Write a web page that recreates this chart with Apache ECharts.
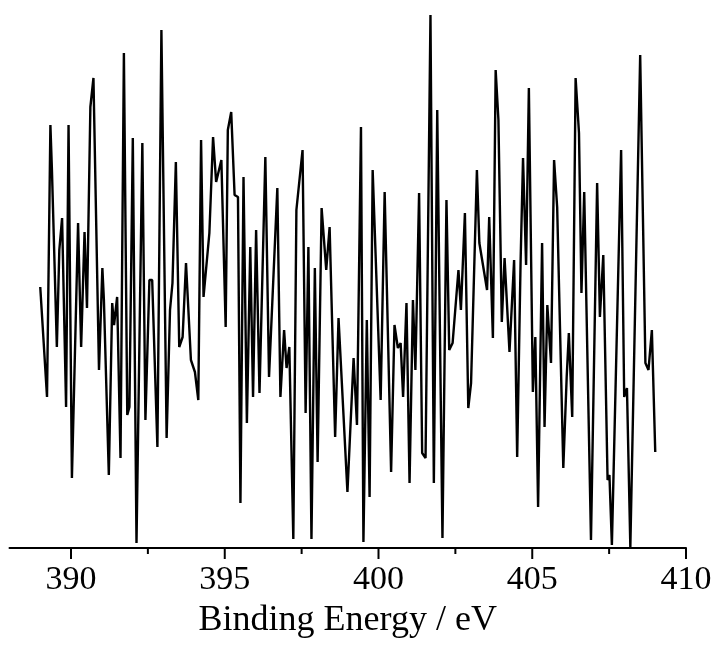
<!DOCTYPE html>
<html>
<head>
<meta charset="utf-8">
<script src="https://cdn.jsdelivr.net/npm/echarts@6/dist/echarts.min.js"></script>
<style>
  html, body { margin: 0; padding: 0; background: #fff; }
  #main { width: 717px; height: 662px; }
</style>
</head>
<body>
<div id="main"></div>
<script>
// binding energy (eV) of each vertex
const energy = [
  389.00, 389.22, 389.33, 389.38, 389.54, 389.62, 389.71, 389.84, 389.92, 390.03, 390.23, 390.33, 390.44, 390.52, 390.63, 390.73,
  390.91, 391.02, 391.07, 391.23, 391.34, 391.40, 391.50, 391.61, 391.72, 391.83, 391.90, 392.01, 392.13, 392.32, 392.42, 392.55, 392.64,
  392.81, 392.94, 393.11, 393.22, 393.30, 393.41, 393.52, 393.63, 393.74, 393.90, 394.03, 394.14, 394.23, 394.31, 394.50,
  394.62, 394.72, 394.89, 395.03, 395.10, 395.21, 395.32, 395.43, 395.51, 395.61, 395.72, 395.83, 395.92, 396.02, 396.13, 396.32,
  396.44, 396.71, 396.81, 396.93, 397.01, 397.10, 397.23, 397.33, 397.53, 397.63, 397.72, 397.82, 397.93, 398.02, 398.15,
  398.30, 398.41, 398.59, 398.70, 398.99, 399.19, 399.30, 399.43, 399.51, 399.62, 399.71, 399.81,
  400.07, 400.20, 400.41, 400.52, 400.63, 400.72, 400.80, 400.91, 401.01, 401.12, 401.20, 401.32, 401.42, 401.53, 401.69, 401.80, 401.91,
  402.08, 402.21, 402.30, 402.41, 402.60, 402.68, 402.81, 402.92, 403.01, 403.20, 403.28, 403.53, 403.60, 403.72,
  403.81, 403.90, 404.01, 404.10, 404.26, 404.41, 404.51, 404.62, 404.70, 404.80, 404.89, 405.02, 405.10, 405.19, 405.32, 405.40, 405.49,
  405.61, 405.71, 405.81, 406.01, 406.12, 406.19, 406.30, 406.41, 406.52, 406.60, 406.69, 406.91, 407.11, 407.20, 407.31, 407.45,
  407.51, 407.59, 407.89, 407.99, 408.08, 408.19, 408.51, 408.68, 408.78, 408.89, 409.00
];

// intensity (arb. units)
const intensity = [
  261, 151, 423, 378, 201, 298, 330, 141, 423, 70, 325, 201, 316, 240, 441, 470,
  178, 280, 248, 73, 245, 223, 251, 90, 495, 133, 141, 410, 5, 405, 128, 268, 268,
  101, 518, 110, 238, 265, 386, 201, 211, 285, 188, 176, 148, 408, 251, 315,
  411, 366, 388, 221, 418, 436, 353, 351, 45, 371, 125, 301, 151, 318, 155, 391,
  171, 360, 151, 218, 180, 201, 9, 338, 398, 135, 301, 9, 280, 86, 340,
  278, 321, 111, 230, 56, 190, 123, 421, 6, 228, 51, 378,
  148, 356, 76, 223, 200, 205, 151, 245, 65, 248, 178, 355, 95, 90, 533, 65, 438,
  10, 348, 198, 205, 278, 238, 335, 140, 165, 378, 305, 258, 331, 210,
  478, 428, 226, 290, 196, 288, 91, 285, 390, 283, 460, 156, 211, 41, 305, 121, 243,
  185, 388, 341, 80, 171, 215, 131, 470, 415, 255, 356, 8, 365, 231, 293, 68,
  73, 3, 398, 151, 160, 1, 493, 185, 178, 218, 96
];

const majorTicks = [390, 395, 400, 405, 410];
const minorTicks = [392.5, 397.5, 402.5, 407.5];
const xTitle = 'Binding Energy / eV';

const MAJOR_LEN = 11;
const MINOR_LEN = 6;

const chart = echarts.init(document.getElementById('main'));

const option = {
  animation: false,
  backgroundColor: '#fff',
  grid: {
    left: 9.5,
    right: 31,
    top: 8,
    bottom: 114
  },
  xAxis: {
    type: 'value',
    min: 388,
    max: 410,
    name: xTitle,
    nameLocation: 'middle',
    nameGap: 55,
    nameTextStyle: {
      fontFamily: 'Liberation Serif',
      fontSize: 36,
      color: '#000'
    },
    axisLine: { lineStyle: { color: '#000', width: 2 } },
    axisTick: { show: false },
    minorTick: { show: false },
    axisLabel: {
      margin: 15,
      customValues: majorTicks,
      fontFamily: 'Liberation Serif',
      fontSize: 34,
      color: '#000'
    },
    splitLine: { show: false }
  },
  yAxis: {
    type: 'value',
    min: 0,
    max: 540,
    show: false
  },
  series: [
    {
      type: 'line',
      data: energy.map(function (e, i) { return [e, intensity[i]]; }),
      showSymbol: false,
      lineStyle: { color: '#000', width: 2.4 },
      clip: false,
      z: 2
    },
    {
      // outward tick marks under the axis line (major + minor)
      type: 'custom',
      silent: true,
      clip: false,
      z: 3,
      data: majorTicks.map(function (v) { return [v, MAJOR_LEN]; })
        .concat(minorTicks.map(function (v) { return [v, MINOR_LEN]; })),
      renderItem: function (params, api) {
        const p = api.coord([api.value(0), 0]);
        return {
          type: 'line',
          shape: { x1: p[0], y1: p[1], x2: p[0], y2: p[1] + api.value(1) },
          style: { stroke: '#000', lineWidth: 2 }
        };
      }
    }
  ]
};

chart.setOption(option);
</script>
</body>
</html>
